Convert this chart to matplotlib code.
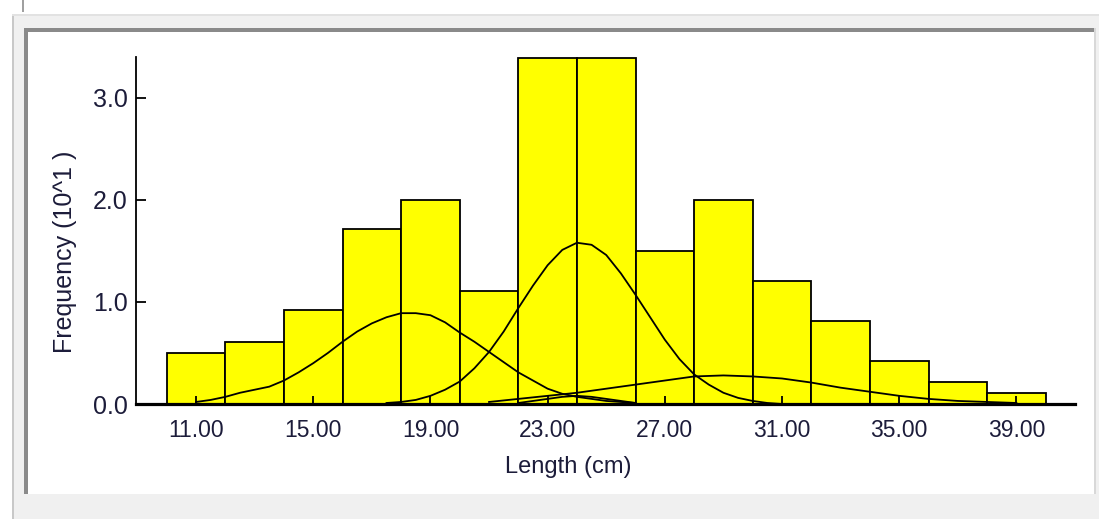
import matplotlib
matplotlib.use("Agg")
import matplotlib.pyplot as plt
from matplotlib.patches import Rectangle

# histogram bins (left edges, width 2 cm) and frequencies (x10)
bin_left = [10, 12, 14, 16, 18, 20, 22, 24, 26, 28, 30, 32, 34, 36, 38]
freq = [0.50, 0.61, 0.92, 1.71, 2.00, 1.11, 3.39, 3.39, 1.50, 2.00, 1.21, 0.81, 0.42, 0.22, 0.11]

# fitted components
c1_x = [11.0, 11.5, 12.0, 12.5, 13.0, 13.5, 14.0, 14.5, 15.0, 15.5, 16.0, 16.5, 17.0, 17.5,
        18.0, 18.5, 19.0, 19.5, 20.0, 20.5, 21.0, 21.5, 22.0, 22.5, 23.0, 23.5, 24.0, 24.5,
        25.0, 25.5, 26.0]
c1_y = [0.02, 0.04, 0.07, 0.11, 0.14, 0.17, 0.23, 0.31, 0.40, 0.50, 0.61, 0.71, 0.79, 0.85,
        0.89, 0.89, 0.87, 0.80, 0.70, 0.61, 0.51, 0.41, 0.31, 0.23, 0.15, 0.10, 0.07, 0.05,
        0.03, 0.02, 0.01]

c2_x = [17.5, 18.0, 18.5, 19.0, 19.5, 20.0, 20.5, 21.0, 21.5, 22.0, 22.5, 23.0, 23.5, 24.0,
        24.5, 25.0, 25.5, 26.0, 26.5, 27.0, 27.5, 28.0, 28.5, 29.0, 29.5, 30.0, 30.5, 31.0]
c2_y = [0.01, 0.02, 0.04, 0.08, 0.14, 0.22, 0.35, 0.51, 0.71, 0.94, 1.16, 1.36, 1.51, 1.58,
        1.56, 1.46, 1.28, 1.07, 0.85, 0.63, 0.44, 0.29, 0.19, 0.11, 0.06, 0.03, 0.01, 0.0]

c3_x = [21, 22, 23, 24, 25, 26, 27, 28, 29, 30, 31, 32, 33, 34, 35, 36, 37, 38, 39]
c3_y = [0.02, 0.05, 0.08, 0.11, 0.15, 0.19, 0.23, 0.27, 0.28, 0.27, 0.25, 0.21, 0.16, 0.12,
        0.08, 0.05, 0.03, 0.02, 0.01]

c4_x = [22.0, 22.5, 23.0, 23.5, 24.0, 24.5, 25.0, 25.5, 26.0]
c4_y = [0.01, 0.03, 0.05, 0.07, 0.08, 0.07, 0.05, 0.03, 0.01]

xticks = [11, 15, 19, 23, 27, 31, 35, 39]
yticks = [0, 1, 2, 3]

W, H = 1099, 519
fig = plt.figure(figsize=(W / 100, H / 100), dpi=100, facecolor="white")

def px_rect(x0, y0, x1, y1, **kw):
    # rectangle in pixel coords (origin top-left)
    r = Rectangle((x0 / W, 1 - y1 / H), (x1 - x0) / W, (y1 - y0) / H,
                  transform=fig.transFigure, **kw)
    fig.add_artist(r)

# window chrome around the plot panel
px_rect(12, 14, W, H, facecolor="#f0f0f0", edgecolor="none", zorder=-10)
px_rect(12, 14, 14, H, facecolor="#c8c8c8", edgecolor="none", zorder=-9)
px_rect(12, 14, W, 16, facecolor="#e2e2e2", edgecolor="none", zorder=-9)
px_rect(24, 28, 1095, 494, facecolor="white", edgecolor="none", zorder=-8)
px_rect(24, 28, 1095, 32, facecolor="#8a8a8a", edgecolor="none", zorder=-7)
px_rect(24, 28, 28, 494, facecolor="#8a8a8a", edgecolor="none", zorder=-7)
px_rect(1094, 28, 1096, 494, facecolor="#d8d8d8", edgecolor="none", zorder=-7)
px_rect(22, 0, 24, 12, facecolor="#a0a0a0", edgecolor="none", zorder=-7)

ax = fig.add_axes([136 / W, 1 - 404 / H, (1075 - 136) / W, (404 - 57) / H])
ax.set_facecolor("none")

ax.bar(bin_left, freq, width=2, align="edge", color="#ffff00",
       edgecolor="black", linewidth=1.3, zorder=1)

for cx, cy in [(c1_x, c1_y), (c2_x, c2_y), (c3_x, c3_y), (c4_x, c4_y)]:
    ax.plot(cx, cy, color="black", linewidth=1.3, zorder=2)

ax.set_xlim(8.95, 41.0)
ax.set_ylim(0, 3.4)

for s in ["top", "right"]:
    ax.spines[s].set_visible(False)
ax.spines["bottom"].set_linewidth(2.3)
ax.spines["left"].set_linewidth(1.3)

tick_font = ["Liberation Sans", "DejaVu Sans"]
ax.set_xticks(xticks)
ax.set_xticklabels(["%.2f" % t for t in xticks], family=tick_font, fontsize=16.5, color="#1c1c3a")
ax.set_yticks(yticks)
ax.set_yticklabels(["%.1f" % t for t in yticks], family=tick_font, fontsize=18, color="#1c1c3a")
ax.tick_params(axis="x", direction="in", length=6, width=1.3, pad=11)
ax.tick_params(axis="y", direction="in", length=7, width=1.3, pad=6)

fig.text(568 / W, 1 - 467 / H, "Length (cm)", ha="center", va="center",
         family=tick_font, fontsize=17, color="#1c1c3a")
fig.text(65 / W, 1 - 252 / H, "Frequency (10^1 )", ha="center", va="center",
         rotation=90, family=tick_font, fontsize=18, color="#1c1c3a")

fig.savefig("out.png", dpi=100)
